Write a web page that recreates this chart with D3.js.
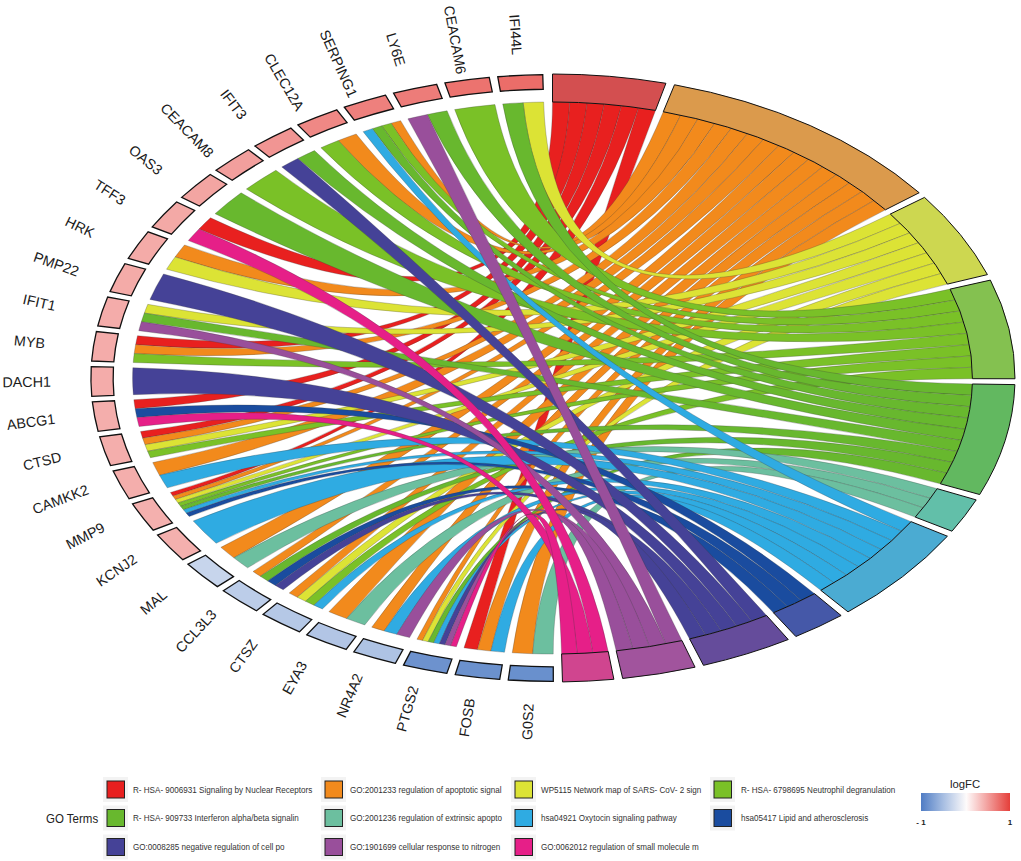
<!DOCTYPE html>
<html><head><meta charset="utf-8">
<script src="https://cdn.jsdelivr.net/npm/d3@7/dist/d3.min.js"></script>
<style>
html,body{margin:0;padding:0;background:#fff}
svg{display:block;font-family:"Liberation Sans",Arial,sans-serif}
.ns{vector-effect:non-scaling-stroke}
</style></head><body><svg id="c" width="1021" height="861"></svg>
<script>
// genes listed clockwise from the bottom of the ellipse
const genes = ["G0S2","FOSB","PTGS2","NR4A2","EYA3","CTSZ","CCL3L3","MAL","KCNJ2","MMP9","CAMKK2","CTSD","ABCG1","DACH1","MYB","IFIT1","PMP22","HRK","TFF3","OAS3","CEACAM8","IFIT3","CLEC12A","SERPING1","LY6E","CEACAM6","IFI44L"];
const logFC = [-0.85,-0.84,-0.83,-0.46,-0.44,-0.42,-0.38,-0.32,0.41,0.41,0.42,0.42,0.42,0.43,0.43,0.43,0.44,0.44,0.45,0.47,0.50,0.55,0.62,0.66,0.68,0.73,0.76];
const terms = ["R- HSA- 9006931 Signaling by Nuclear Receptors","GO:2001233 regulation of apoptotic signal","WP5115 Network map of SARS- CoV- 2 sign","R- HSA- 6798695 Neutrophil degranulation","R- HSA- 909733 Interferon alpha/beta signalin","GO:2001236 regulation of extrinsic apopto","hsa04921 Oxytocin signaling pathway","hsa05417 Lipid and atherosclerosis","GO:0008285 negative regulation of cell po","GO:1901699 cellular response to nitrogen","GO:0062012 regulation of small molecule m"];
const termColors = ["#e8201f","#f28a1c","#dce335","#7ac127","#68b82e","#6cbf9f","#2fabe2","#1a4c9f","#454297","#994f9b","#e61f88"];
const ringColors = ["#d34f50","#db9a4c","#cdd750","#84c150","#62b860","#62bfa9","#4babd2","#4558a8","#654c9b","#a1549d","#d0458f"];
const t0 = ["TFF3","MYB","ABCG1","CTSD","MMP9","FOSB"];
const t1 = ["SERPING1","CLEC12A","HRK","MYB","CTSD","CAMKK2","MMP9","MAL","CCL3L3","CTSZ","EYA3","NR4A2","PTGS2","FOSB","G0S2"];
const t2 = ["IFI44L","HRK","IFIT1","CTSD","MMP9","CTSZ","PTGS2"];
const t3 = ["CEACAM6","SERPING1","CLEC12A","CEACAM8","MYB","CTSD","MMP9","CTSZ"];
const t4 = ["IFI44L","LY6E","SERPING1","IFIT3","OAS3","IFIT1","MMP9","CCL3L3","PTGS2"];
const t5 = ["MAL","EYA3","G0S2"];
const t6 = ["SERPING1","CAMKK2","MMP9","KCNJ2","CTSZ","NR4A2","PTGS2","FOSB"];
const t7 = ["ABCG1","MMP9","CCL3L3"];
const t8 = ["IFIT3","PMP22","DACH1","CCL3L3","PTGS2"];
const t9 = ["LY6E","IFIT1","NR4A2","PTGS2"];
const t10 = ["TFF3","ABCG1","PTGS2"];
const members = [t0,t1,t2,t3,t4,t5,t6,t7,t8,t9,t10];

const cx=552.5, cy=378, rx=462.5, ry=304;
const rad = d3.scaleLinear().domain([0,180]).range([0,Math.PI]);
const svg = d3.select("#c");
const plot = svg.append("g").attr("transform",`translate(${cx},${cy}) scale(${rx/100},${ry/100})`);

// angular layout (degrees clockwise from top)
const unit=2.366, termGap=1.1, genePitch=6.665, geneStart=179.9, geneWidth=5.6, chordR=90.8;
const spanFactor=[1,1.047,1,1,1,0.933,1,0.967,0.98,0.975,0.9];
const geneA = d3.scaleLinear().domain([0,genes.length]).range([geneStart,geneStart+genes.length*genePitch]);
let cursor=0;
const termLayout = members.map((m,i)=>{const w=m.length*unit*spanFactor[i],s=cursor,e=s+w;cursor=e+termGap;return {s,e,w:w/m.length};});
const geneOf = g=>genes.indexOf(g);

const geneTermCount = genes.map(g=>members.filter(m=>m.includes(g)).length);
const links=[];
members.forEach((m,ti)=>{
  const sorted = m.slice().sort((a,b)=>geneOf(b)-geneOf(a));
  sorted.forEach((g,k)=>{
    const gi=geneOf(g);
    const tsHere = members.map((mm,i)=>mm.includes(g)?i:-1).filter(i=>i>=0).sort((a,b)=>b-a);
    const pos = tsHere.indexOf(ti), w = geneWidth/geneTermCount[gi], a0=geneA(gi), T=termLayout[ti];
    links.push({ti,
      source:{startAngle:rad(a0+pos*w),endAngle:rad(a0+(pos+1)*w)},
      target:{startAngle:rad(T.s+k*T.w),endAngle:rad(T.s+(k+1)*T.w)}});
  });
});
const ribbon = d3.ribbon().radius(chordR);
plot.append("g").selectAll("path").data(links).join("path").attr("class","ns")
  .attr("d",ribbon).attr("fill",d=>termColors[d.ti])
  .attr("stroke","#3a3a3a").attr("stroke-opacity",.55).attr("stroke-width",.5);

// term ring
const termArc = d3.arc().innerRadius(90.8).outerRadius(100);
plot.append("g").selectAll("path").data(termLayout).join("path").attr("class","ns")
  .attr("d",d=>termArc({startAngle:rad(d.s),endAngle:rad(d.e)}))
  .attr("fill",(d,i)=>ringColors[i]).attr("stroke","#111").attr("stroke-width",1);

// gene ring
const color = d3.scaleLinear().domain([-1,0,1]).range(["#4f7cc4","#ffffff","#e53f3a"]);
const geneArc = d3.arc().innerRadius(95).outerRadius(99.8);
plot.append("g").selectAll("path").data(genes).join("path").attr("class","ns")
  .attr("d",(d,i)=>geneArc({startAngle:rad(geneA(i)),endAngle:rad(geneA(i)+geneWidth)}))
  .attr("fill",(d,i)=>color(logFC[i])).attr("stroke","#111").attr("stroke-width",1.3);

// gene labels, centred on a larger ellipse
svg.append("g").selectAll("text").data(genes).join("text")
  .attr("transform",(d,i)=>{
    const a=geneA(i)+geneWidth/2, t=rad(a);
    const x=cx+rx*1.137*Math.sin(t), y=cy-ry*1.132*Math.cos(t);
    return `translate(${x},${y}) rotate(${a-270})`;
  })
  .attr("text-anchor","middle").attr("dy",".35em").attr("font-size",14.3).attr("fill","#1a1a1a").text(d=>d);

// legend
const colX=[107,325,515,714], textX=[133,350,541,741], rowY=[789.5,818,847];
const order=[[0,0,0],[1,1,0],[2,2,0],[3,3,0],[4,0,1],[5,1,1],[6,2,1],[7,3,1],[8,0,2],[9,1,2],[10,2,2]];
const leg=svg.append("g");
order.forEach(([t,c,r])=>{
  leg.append("rect").attr("x",colX[c]-4).attr("y",rowY[r]-12.5).attr("width",25).attr("height",25).attr("fill","#f3f3f3");
  leg.append("rect").attr("x",colX[c]).attr("y",rowY[r]-8.5).attr("width",17.5).attr("height",17)
    .attr("fill",termColors[t]).attr("stroke","#222").attr("stroke-width",1);
  leg.append("text").attr("transform",`translate(${textX[c]},${rowY[r]+3}) scale(.9,1)`)
    .attr("font-size",9).attr("fill","#333").text(terms[t]);
});
svg.append("text").attr("transform","translate(46,822.5) scale(.92,1)").attr("font-size",12.5).attr("fill","#222").text("GO Terms");
svg.append("text").attr("x",965).attr("y",788).attr("text-anchor","middle").attr("font-size",11.3).attr("fill","#222").text("logFC");
const gradStops=[-1,-0.5,0.02,0.5,1];
const grad=svg.append("defs").append("linearGradient").attr("id","lfc");
gradStops.forEach(v=>grad.append("stop").attr("offset",(v+1)/2).attr("stop-color",color(v)));
svg.append("rect").attr("x",921).attr("y",793).attr("width",89).attr("height",18).attr("fill","url(#lfc)");
const barX=d3.scaleLinear().domain([-1,1]).range([921,1010]);
svg.append("g").selectAll("text").data([-1,1]).join("text").attr("x",d=>barX(d)).attr("y",824.5)
  .attr("text-anchor","middle").attr("font-size",8).attr("font-weight","bold").attr("fill","#222").text(d=>d===-1?"- 1":"1");
</script></body></html>
